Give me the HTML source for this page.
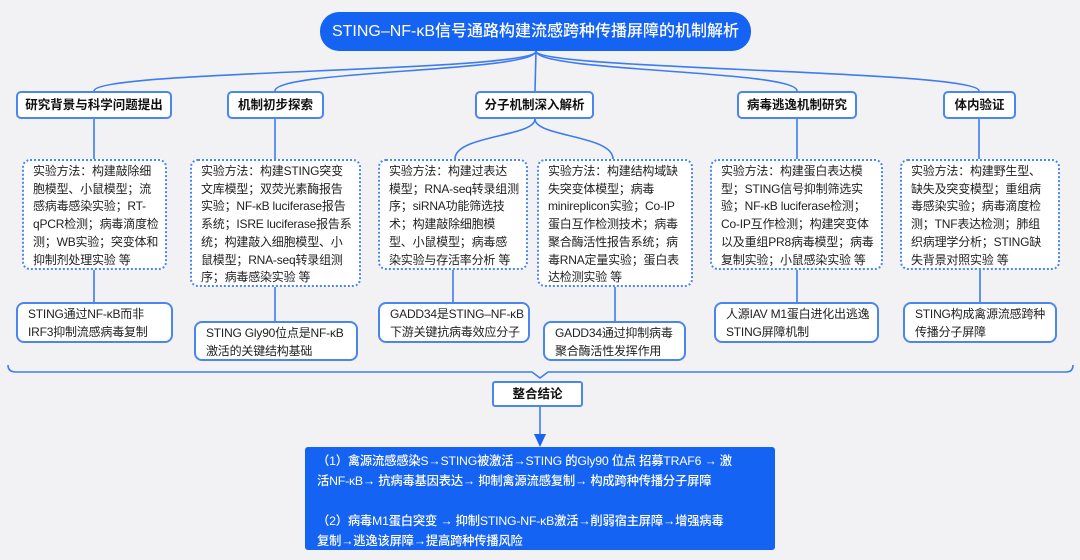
<!DOCTYPE html>
<html><head><meta charset="utf-8"><style>
body{margin:0;width:1080px;height:560px;background:#f2f2f4;position:relative;overflow:hidden;font-family:"Liberation Sans","Noto Sans CJK SC",sans-serif;}
.a{position:absolute;box-sizing:border-box;white-space:nowrap;overflow:hidden;}
.t{left:320px;top:12px;width:431px;height:39px;background:#1463f3;border-radius:19px;color:#fff;font-size:16px;font-weight:500;text-align:center;line-height:39px;}
.l1{top:91px;height:28px;background:#fff;border:2px solid #4a86f0;border-radius:5px;font-size:12.5px;font-weight:bold;text-align:center;line-height:24px;color:#111;}
.d{top:159px;background:#fff;border:2px dotted #4a86f0;border-radius:8px;font-size:12px;line-height:17.7px;color:#222;padding:2px 0 0 9px;letter-spacing:-0.2px;}
.r{background:#fff;border:2px solid #4a86f0;border-radius:8px;font-size:12px;line-height:17.5px;color:#222;padding:2px 0 0 10px;letter-spacing:-0.2px;}
</style></head><body>
<svg class="a" style="left:0;top:0;overflow:visible" width="1080" height="560">
<g fill="none" stroke="#3d7cf0" stroke-width="1.6">
<path d="M536 51 C536 72 94 70 94 91"/>
<path d="M536 51 C536 72 275 70 275 91"/>
<path d="M536 51 L535 91"/>
<path d="M536 51 C536 72 797 70 797 91"/>
<path d="M536 51 C536 70 979 70 979 91"/>
<path d="M94 119V159M275 119V159M797 119V159M979 119V159"/>
<path d="M535 119 C535 137 455 135 455 159"/>
<path d="M535 119 C535 137 613 135 613 159"/>
<path d="M94 270V302M275 287V321M453 270V302M615 287V321M797 270V302M980 270V302"/>
<path d="M8 365 Q8 372 16 372 L532 372 L540 378 L548 372 L1066 372 Q1073 372 1073 365"/>
<path d="M540 407 V436"/>
</g>
<path d="M534 434 L546 434 L540 447Z" fill="#1a63f3"/>
</svg>
<div class="a t">STING–NF-κB信号通路构建流感跨种传播屏障的机制解析</div>
<div class="a l1" style="left:16px;width:156px">研究背景与科学问题提出</div>
<div class="a l1" style="left:227px;width:97px">机制初步探索</div>
<div class="a l1" style="left:475px;width:119px">分子机制深入解析</div>
<div class="a l1" style="left:737px;width:120px">病毒逃逸机制研究</div>
<div class="a l1" style="left:943px;width:73px">体内验证</div>

<div class="a d" style="left:22px;width:145px;height:111px">实验方法：构建敲除细<br>胞模型、小鼠模型；流<br>感病毒感染实验；RT-<br>qPCR检测；病毒滴度检<br>测；WB实验；突变体和<br>抑制剂处理实验 等</div>
<div class="a d" style="left:190px;width:171px;height:128px">实验方法：构建STING突变<br>文库模型；双荧光素酶报告<br>实验；NF-κB luciferase报告<br>系统；ISRE luciferase报告系<br>统；构建敲入细胞模型、小<br>鼠模型；RNA-seq转录组测<br>序；病毒感染实验 等</div>
<div class="a d" style="left:378px;width:150px;height:111px">实验方法：构建过表达<br>模型；RNA-seq转录组测<br>序；siRNA功能筛选技<br>术；构建敲除细胞模<br>型、小鼠模型；病毒感<br>染实验与存活率分析 等</div>
<div class="a d" style="left:537px;width:156px;height:128px">实验方法：构建结构域缺<br>失突变体模型；病毒<br>minireplicon实验；Co-IP<br>蛋白互作检测技术；病毒<br>聚合酶活性报告系统；病<br>毒RNA定量实验；蛋白表<br>达检测实验 等</div>
<div class="a d" style="left:710px;width:173px;height:111px">实验方法：构建蛋白表达模<br>型；STING信号抑制筛选实<br>验；NF-κB luciferase检测；<br>Co-IP互作检测；构建突变体<br>以及重组PR8病毒模型；病毒<br>复制实验；小鼠感染实验 等</div>
<div class="a d" style="left:900px;width:160px;height:111px">实验方法：构建野生型、<br>缺失及突变模型；重组病<br>毒感染实验；病毒滴度检<br>测；TNF表达检测；肺组<br>织病理学分析；STING缺<br>失背景对照实验 等</div>

<div class="a r" style="left:16px;top:302px;width:157px;height:41px">STING通过NF-κB而非<br>IRF3抑制流感病毒复制</div>
<div class="a r" style="left:194px;top:321px;width:164px;height:40px">STING Gly90位点是NF-κB<br>激活的关键结构基础</div>
<div class="a r" style="left:378px;top:302px;width:152px;height:41px">GADD34是STING–NF-κB<br>下游关键抗病毒效应分子</div>
<div class="a r" style="left:543px;top:321px;width:143px;height:40px">GADD34通过抑制病毒<br>聚合酶活性发挥作用</div>
<div class="a r" style="left:714px;top:302px;width:165px;height:41px">人源IAV M1蛋白进化出逃逸<br>STING屏障机制</div>
<div class="a r" style="left:903px;top:302px;width:154px;height:41px">STING构成禽源流感跨种<br>传播分子屏障</div>

<div class="a l1" style="left:492px;top:381px;width:91px;height:26px;line-height:22px;border-radius:3px">整合结论</div>
<div class="a" style="left:305px;top:447px;width:470px;height:103px;background:#1463f3;border-radius:3px;color:#fff;font-size:12.3px;font-weight:500;line-height:20px;padding:4px 0 0 12px;letter-spacing:-0.2px">（1）禽源流感感染S→STING被激活→STING 的Gly90 位点 招募TRAF6 → 激<br>活NF-κB→ 抗病毒基因表达→ 抑制禽源流感复制→ 构成跨种传播分子屏障<br><br>（2）病毒M1蛋白突变 → 抑制STING-NF-κB激活→削弱宿主屏障→增强病毒<br>复制→逃逸该屏障→提高跨种传播风险</div>
</body></html>
